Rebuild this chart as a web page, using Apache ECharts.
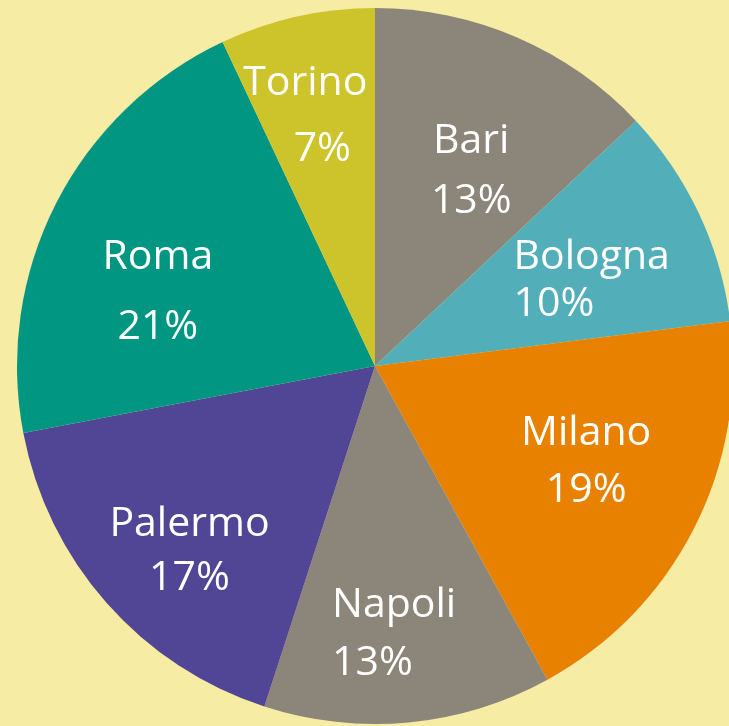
<!DOCTYPE html>
<html>
<head>
<meta charset="utf-8">
<script src="https://cdn.jsdelivr.net/npm/echarts@6/dist/echarts.min.js"></script>
<style>
  html, body { margin: 0; padding: 0; background: #f6eca4; }
  #chart { width: 729px; height: 726px; }
</style>
</head>
<body>
<div id="chart"></div>
<script>
// share of total per city (%), clockwise from 12 o'clock
const cities = ['Bari', 'Bologna', 'Milano', 'Napoli', 'Palermo', 'Roma', 'Torino']
const shares = [13, 10, 19, 13, 17, 21, 7]
const colors = ['#8b857a', '#52aeb8', '#e88100', '#8b857a', '#514595', '#009682', '#cdc42b']

// label nudges from the default inside position, and line spacing
const labelShift = {
  Bari: [24, -28], Bologna: [52, -8], Milano: [49, 13], Napoli: [2, 87],
  Palermo: [-49, 65], Roma: [-55, 9], Torino: [-30, -72],
}
const lineGap = { Bari: 60, Bologna: 47, Milano: 57, Napoli: 58, Palermo: 54, Roma: 70, Torino: 66 }
const leftAligned = ['Bologna', 'Napoli']

const chart = echarts.init(document.getElementById('chart'))

const pieData = cities.map((name, i) => {
  const lh = lineGap[name]
  const align = leftAligned.includes(name) ? 'left' : 'center'
  const pctStyle = { lineHeight: lh, align }
  if (name === 'Torino') pctStyle.padding = [0, 0, 0, 34]
  return {
    name,
    value: shares[i],
    itemStyle: { color: colors[i] },
    label: {
      rich: {
        n: { lineHeight: lh, align },
        p: pctStyle,
      },
    },
  }
})

chart.setOption({
  backgroundColor: '#f6eca4',
  animation: false,
  series: [{
    type: 'pie',
    center: [375, 366],
    radius: 358,
    startAngle: 90,
    clockwise: true,
    itemStyle: { borderWidth: 0 },
    label: {
      show: true,
      position: 'inside',
      color: '#fff',
      fontFamily: 'Open Sans',
      fontSize: 41,
      formatter: '{n|{b}}\n{p|{c}%}',
      rich: {
        n: { color: '#fff', fontFamily: 'Open Sans', fontSize: 41 },
        p: { color: '#fff', fontFamily: 'Open Sans', fontSize: 41 },
      },
    },
    labelLine: { show: false },
    emphasis: { disabled: true },
    labelLayout: (params) => {
      const s = labelShift[cities[params.dataIndex]]
      return { dx: s[0], dy: s[1] }
    },
    data: pieData,
  }],
})
</script>
</body>
</html>
